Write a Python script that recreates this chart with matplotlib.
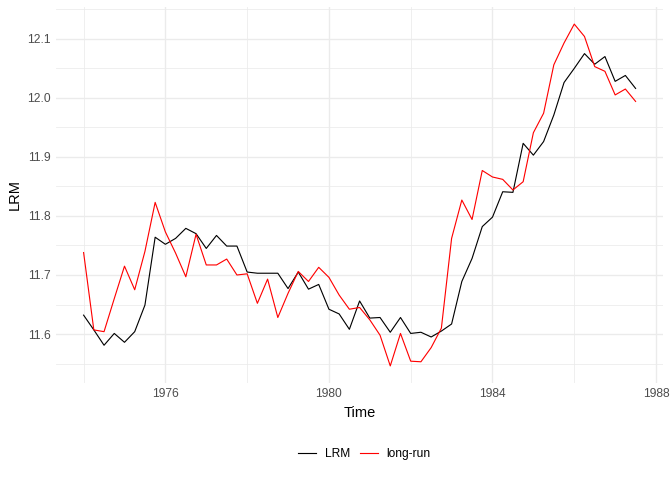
import matplotlib
matplotlib.use("Agg")
import matplotlib.pyplot as plt
from matplotlib.ticker import FixedLocator
import numpy as np

plt.rcParams['font.family'] = ['Liberation Sans', 'DejaVu Sans']

start_year = 1974.0
lrm = [11.632, 11.607, 11.581, 11.601, 11.586, 11.604, 11.649, 11.764, 11.752, 11.762,
       11.779, 11.770, 11.745, 11.767, 11.749, 11.749, 11.705, 11.703, 11.703, 11.703,
       11.677, 11.705, 11.676, 11.684, 11.642, 11.634, 11.608, 11.656, 11.627, 11.628,
       11.603, 11.628, 11.601, 11.603, 11.595, 11.605, 11.617, 11.689, 11.728, 11.782,
       11.798, 11.841, 11.840, 11.923, 11.903, 11.926, 11.971, 12.026, 12.050, 12.075,
       12.057, 12.070, 12.028, 12.038, 12.016]
long_run = [11.738, 11.607, 11.604, 11.660, 11.715, 11.675, 11.740, 11.823, 11.773, 11.737,
            11.697, 11.769, 11.717, 11.717, 11.727, 11.700, 11.702, 11.652, 11.693, 11.628,
            11.669, 11.706, 11.689, 11.713, 11.696, 11.666, 11.642, 11.645, 11.624, 11.598,
            11.546, 11.601, 11.554, 11.553, 11.577, 11.610, 11.762, 11.827, 11.794, 11.877,
            11.866, 11.862, 11.844, 11.858, 11.941, 11.974, 12.056, 12.093, 12.125, 12.104,
            12.053, 12.045, 12.005, 12.015, 11.994]
time = start_year + np.arange(len(lrm)) / 4.0

x_breaks = [1976, 1980, 1984, 1988]
x_minor = [1974, 1978, 1982, 1986]
y_breaks = [11.6, 11.7, 11.8, 11.9, 12.0, 12.1]
y_minor = [11.55, 11.65, 11.75, 11.85, 11.95, 12.05, 12.15]

fig = plt.figure(figsize=(7, 5), dpi=96)
ax = fig.add_axes([56/672, 1 - 383/480, (663.2 - 56)/672, (383 - 7)/480])

ax.plot(time, lrm, color='black', lw=0.85, label='LRM')
ax.plot(time, long_run, color='red', lw=0.85, label='long-run')

xmin, xmax = time.min(), time.max()
xr = xmax - xmin
ax.set_xlim(xmin - 0.05 * xr, xmax + 0.05 * xr)
allv = np.array(lrm + long_run)
ymin, ymax = allv.min(), allv.max()
yr = ymax - ymin
ax.set_ylim(ymin - 0.05 * yr, ymax + 0.05 * yr)

ax.xaxis.set_major_locator(FixedLocator(x_breaks))
ax.xaxis.set_minor_locator(FixedLocator(x_minor))
ax.yaxis.set_major_locator(FixedLocator(y_breaks))
ax.yaxis.set_minor_locator(FixedLocator(y_minor))
ax.set_xticklabels([str(v) for v in x_breaks])
ax.set_yticklabels([f"{v:.1f}" for v in y_breaks])

ax.grid(which='major', color='#EBEBEB', lw=1.0)
ax.grid(which='minor', color='#EBEBEB', lw=0.6)
ax.set_axisbelow(True)
for s in ax.spines.values():
    s.set_visible(False)
ax.tick_params(which='both', length=0)
ax.tick_params(axis='both', labelsize=9, labelcolor='#4D4D4D', pad=4)

ax.set_xlabel('Time', fontsize=11, labelpad=4)
ax.set_ylabel('LRM', fontsize=11, labelpad=4)

fig.legend(loc='center', bbox_to_anchor=(364.5/672, 1 - 454/480), ncol=2, frameon=False,
           fontsize=9, handlelength=1.5, handletextpad=0.75, columnspacing=0.75)

fig.savefig('out.png', dpi=96)
